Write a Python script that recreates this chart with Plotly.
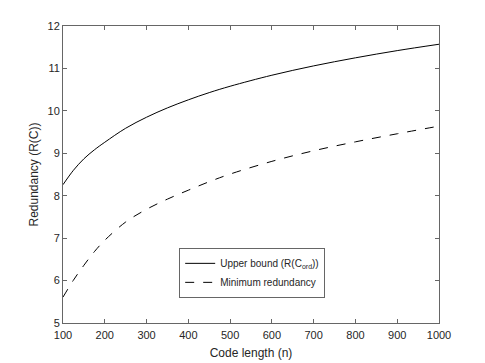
import plotly.graph_objects as go

# code length n
code_length = [100, 125, 150, 175, 200, 250, 300, 350, 400, 450, 500, 600, 700, 800, 900, 1000]
# upper bound R(C_ord)
upper_bound = [8.26, 8.60, 8.87, 9.08, 9.26, 9.59, 9.85, 10.07, 10.26, 10.43, 10.58, 10.84, 11.06, 11.25, 11.42, 11.57]
# minimum redundancy
min_redundancy = [5.61, 6.01, 6.36, 6.68, 6.95, 7.38, 7.68, 7.92, 8.13, 8.33, 8.51, 8.81, 9.06, 9.27, 9.46, 9.64]

fig = go.Figure()
fig.add_trace(go.Scatter(x=code_length, y=upper_bound, mode="lines",
                         line_shape="spline",
                         name="Upper bound (R(C<sub>ord</sub>))",
                         line=dict(color="black", width=1, smoothing=1)))
fig.add_trace(go.Scatter(x=code_length, y=min_redundancy, mode="lines",
                         line_shape="spline",
                         name="Minimum redundancy",
                         line=dict(color="black", width=1, dash="dash", smoothing=1)))

axis_style = dict(showline=True, linecolor="#666", linewidth=1, mirror="ticks",
                  ticks="inside", ticklen=4, tickcolor="#666", showgrid=False,
                  zeroline=False, tickfont=dict(size=11, color="#262626"))

# page body adds an 8px offset, so margins are shifted to compensate
fig.update_layout(
    width=485, height=363,
    margin=dict(l=55, r=54, t=18, b=48),
    plot_bgcolor="white", paper_bgcolor="white",
    font=dict(family="Liberation Sans, Arial, sans-serif", color="#262626"),
    xaxis=dict(range=[100, 1000], tickvals=list(range(100, 1001, 100)),
               ticklabelstandoff=2,
               title=dict(text="Code length (n)", font=dict(size=12), standoff=8), **axis_style),
    yaxis=dict(range=[5, 12], tickvals=list(range(5, 13)),
               title=dict(text="Redundancy (R(C))", font=dict(size=12), standoff=6), **axis_style),
    legend=dict(x=0.309, y=0.253, xanchor="left", yanchor="top",
                bordercolor="#666", borderwidth=1, bgcolor="white",
                font=dict(size=10), tracegroupgap=0, itemwidth=30),
    showlegend=True,
)

fig.write_html("out.html")
